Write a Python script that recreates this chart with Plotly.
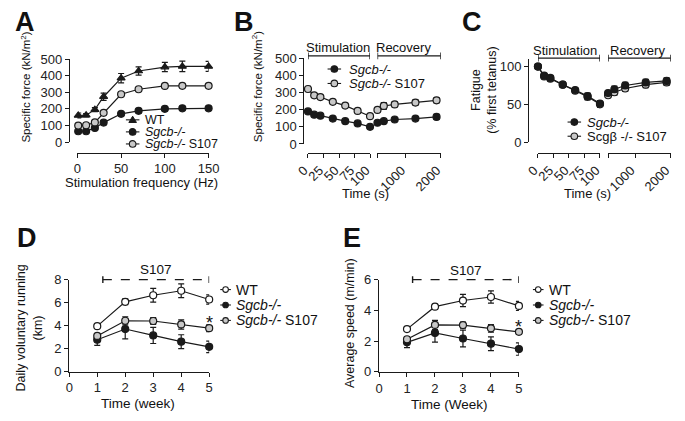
import plotly.graph_objects as go

W, H = 685, 421


def fx(p):
    return p / W


def fy(p):
    return 1 - p / H


# ---------------- data ----------------
# Panel A: force-frequency
freq_hz = [1, 10, 20, 30, 50, 70, 100, 120, 150]
a_wt = [160, 162, 195, 273, 385, 428, 452, 456, 456]
a_wt_err = [15, 10, 12, 22, 28, 25, 28, 32, 30]
a_ko = [65, 65, 85, 117, 170, 188, 200, 203, 203]
a_ko_err = [8, 8, 8, 12, 12, 12, 12, 12, 12]
a_s107 = [99, 101, 118, 176, 288, 318, 338, 339, 339]
a_s107_err = [8, 8, 8, 8, 8, 10, 10, 10, 10]

# Panels B, C: fatigue protocol
stim_time_s = [0, 10, 20, 40, 60, 80, 100]
rec_time_s = [200, 380, 690, 1280, 1880]
b_ko_stim = [190, 171, 165, 148, 133, 120, 100]
b_ko_stim_err = [8, 6, 6, 6, 6, 6, 6]
b_s107_stim = [321, 284, 274, 246, 224, 193, 162]
b_s107_stim_err = [15, 10, 10, 8, 8, 8, 8]
b_ko_rec = [124, 133, 143, 148, 158]
b_ko_rec_err = [8, 8, 8, 10, 15]
b_s107_rec = [199, 222, 231, 242, 255]
b_s107_rec_err = [12, 20, 15, 15, 15]

c_ko_stim = [100, 88, 85, 76, 69, 61, 51]
c_ko_stim_err = [2, 3, 3, 3, 3, 4, 4]
c_s107_stim = [100, 87, 84, 76, 68, 60, 50]
c_s107_stim_err = [2, 3, 3, 3, 3, 4, 4]
c_ko_rec = [65, 70, 75, 79, 81]
c_ko_rec_err = [3, 4, 4, 4, 4]
c_s107_rec = [62, 66, 71, 76, 79]
c_s107_rec_err = [3, 4, 4, 4, 4]

# Panels D, E: voluntary running
weeks = [1, 2, 3, 4, 5]
d_wt = [3.95, 6.07, 6.64, 7.03, 6.27]
d_wt_err = [0.1, 0.25, 0.6, 0.6, 0.4]
d_ko = [2.77, 3.7, 3.14, 2.6, 2.15]
d_ko_err = [0.5, 0.85, 0.7, 0.6, 0.5]
d_s107 = [3.1, 4.42, 4.4, 4.1, 3.77]
d_s107_err = [0.2, 0.35, 0.3, 0.4, 0.3]

e_wt = [2.78, 4.24, 4.64, 4.87, 4.29]
e_wt_err = [0.05, 0.15, 0.4, 0.4, 0.3]
e_ko = [1.92, 2.53, 2.17, 1.83, 1.48]
e_ko_err = [0.35, 0.6, 0.55, 0.45, 0.4]
e_s107 = [2.12, 3.05, 3.04, 2.83, 2.6]
e_s107_err = [0.15, 0.3, 0.2, 0.25, 0.15]

# ---------------- style ----------------
FONT = "Arial, 'Liberation Sans', sans-serif"
LINE = "#1a1a1a"
GREY = "#c8c8c8"

KO = "<i>Sgcb-/-</i>"
S107 = "<i>Sgcb-/-</i> S107"
S107_C = "Scgβ -/- S107"

fig = go.Figure()


def add(x, y, err, xa, ya, symbol, fill, name, size=7):
    fig.add_trace(go.Scatter(
        x=x, y=y, mode="lines+markers", name=name,
        xaxis=xa, yaxis=ya, showlegend=False,
        line=dict(color=LINE, width=1.2),
        marker=dict(symbol=symbol, size=size, color=fill,
                    line=dict(color=LINE, width=1.2)),
        error_y=dict(type="data", array=err, visible=True, color=LINE,
                     thickness=1.2, width=3),
        cliponaxis=False, hoverinfo="skip"))


# A
add(freq_hz, a_wt, a_wt_err, "x", "y", "triangle-up", LINE, "WT")
add(freq_hz, a_ko, a_ko_err, "x", "y", "circle", LINE, KO)
add(freq_hz, a_s107, a_s107_err, "x", "y", "circle", GREY, S107)
# B
add(stim_time_s, b_ko_stim, b_ko_stim_err, "x2", "y2", "circle", LINE, KO)
add(stim_time_s, b_s107_stim, b_s107_stim_err, "x2", "y2", "circle", GREY, S107)
add(rec_time_s, b_ko_rec, b_ko_rec_err, "x3", "y2", "circle", LINE, KO)
add(rec_time_s, b_s107_rec, b_s107_rec_err, "x3", "y2", "circle", GREY, S107)
# C
add(stim_time_s, c_s107_stim, c_s107_stim_err, "x4", "y3", "circle", GREY, S107_C)
add(stim_time_s, c_ko_stim, c_ko_stim_err, "x4", "y3", "circle", LINE, KO)
add(rec_time_s, c_s107_rec, c_s107_rec_err, "x5", "y3", "circle", GREY, S107_C)
add(rec_time_s, c_ko_rec, c_ko_rec_err, "x5", "y3", "circle", LINE, KO)
# D
add(weeks, d_ko, d_ko_err, "x6", "y4", "circle", LINE, KO)
add(weeks, d_s107, d_s107_err, "x6", "y4", "circle", GREY, S107)
add(weeks, d_wt, d_wt_err, "x6", "y4", "circle", "white", "WT")
# E
add(weeks, e_ko, e_ko_err, "x7", "y5", "circle", LINE, KO)
add(weeks, e_s107, e_s107_err, "x7", "y5", "circle", GREY, S107)
add(weeks, e_wt, e_wt_err, "x7", "y5", "circle", "white", "WT")


def axis(**kw):
    base = dict(showline=True, linecolor=LINE, linewidth=1.3, ticks="outside",
                ticklen=4, tickwidth=1.3, tickcolor=LINE, showgrid=False,
                zeroline=False, fixedrange=True,
                tickfont=dict(family=FONT, size=13, color="#222"))
    base.update(kw)
    return base


XPOS = fy(151)
layout_axes = dict(
    xaxis=axis(domain=[fx(66.7), fx(202.7)], range=[0, 150], tickvals=[0, 50, 100, 150],
               anchor="free", position=XPOS),
    yaxis=axis(domain=[fy(140), fy(54)], range=[0, 500], tickvals=[0, 100, 200, 300, 400, 500],
               anchor="free", position=fx(58)),
    xaxis2=axis(domain=[fx(305.7), fx(370)], range=[0, 100], tickvals=[0, 25, 50, 75, 100],
                tickangle=-45, anchor="free", position=XPOS, ticklabelshift=-4),
    xaxis3=axis(domain=[fx(377.7), fx(443.3)], range=[200, 2000], tickvals=[200, 1000, 2000],
                ticktext=["", "1000", "2000"], tickangle=-45, anchor="free", position=XPOS,
                ticklabelshift=-4),
    yaxis2=axis(domain=[fy(142), fy(53.3)], range=[0, 500], tickvals=[0, 100, 200, 300, 400, 500],
                anchor="free", position=fx(301)),
    xaxis4=axis(domain=[fx(544), fx(608.3)], range=[0, 100], tickvals=[0, 25, 50, 75, 100],
                tickangle=-45, anchor="free", position=XPOS, ticklabelshift=-4),
    xaxis5=axis(domain=[fx(616.7), fx(681.7)], range=[200, 2000], tickvals=[200, 1000, 2000],
                ticktext=["", "1000", "2000"], tickangle=-45, anchor="free", position=XPOS,
                ticklabelshift=-5),
    yaxis3=axis(domain=[fy(140), fy(54)], range=[0, 110], tickvals=[0, 50, 100],
                anchor="free", position=fx(534)),
    xaxis6=axis(domain=[fx(58.3), fx(203.3)], range=[0, 5], tickvals=[0, 1, 2, 3, 4, 5],
                anchor="y4"),
    yaxis4=axis(domain=[fy(378), fy(282.7)], range=[0, 8], tickvals=[0, 2, 4, 6, 8],
                anchor="x6"),
    xaxis7=axis(domain=[fx(379.3), fx(524.3)], range=[0, 5], tickvals=[0, 1, 2, 3, 4, 5],
                anchor="y5"),
    yaxis5=axis(domain=[fy(378.3), fy(282.7)], range=[0, 6], tickvals=[0, 2, 4, 6],
                anchor="x7"),
)

annotations = []
shapes = []


def text(x, y, s, size=13.5, xref="paper", yref="paper", angle=0, bold=False,
         xanchor="center", **kw):
    annotations.append(dict(x=x, y=y, xref=xref, yref=yref, text=s, showarrow=False,
                            textangle=angle, xanchor=xanchor, yanchor="middle",
                            font=dict(family=FONT, size=size, color="#111",
                                      weight="bold" if bold else "normal"), **kw))


# ---------- legends (symbol + short line + label) ----------
def legend_entry(tx, cy, label, symbol, fill, size=13, r=3.3, gap=11, half=7):
    y = fy(cy)
    mx = tx - gap
    shapes.append(dict(type="line", xref="paper", yref="paper",
                       x0=fx(mx - half), x1=fx(mx + half), y0=y, y1=y,
                       line=dict(color=LINE, width=1.1)))
    if symbol == "circle":
        shapes.append(dict(type="circle", xref="paper", yref="paper",
                           xsizemode="pixel", ysizemode="pixel",
                           xanchor=fx(mx), yanchor=y, x0=-r, x1=r, y0=-r, y1=r,
                           fillcolor=fill, line=dict(color=LINE, width=1.1)))
    else:
        shapes.append(dict(type="path", xref="paper", yref="paper",
                           xsizemode="pixel", ysizemode="pixel",
                           xanchor=fx(mx), yanchor=y,
                           path=f"M{-r - 0.5},{-r * 0.8} L{r + 0.5},{-r * 0.8} L0,{r * 1.1} Z",
                           fillcolor=fill, line=dict(color=LINE, width=1.0)))
    text(fx(tx), y, label, size=size, xanchor="left")


legend_entry(135, 117, "WT", "triangle", LINE, size=12.5)
legend_entry(135, 129.5, KO, "circle", LINE, size=12.5)
legend_entry(135, 142, S107, "circle", GREY, size=12.5)

legend_entry(346, 64.3, KO, "circle", LINE, gap=13)
legend_entry(346, 79.3, S107, "circle", GREY, gap=13)

legend_entry(592.7, 119.3, KO, "circle", LINE)
legend_entry(592.7, 134, S107_C, "circle", GREY)

for tx in (229.3, 553.3):
    legend_entry(tx, 293, "WT", "circle", "white", size=14, r=2.8, gap=9, half=5.5)
    legend_entry(tx, 309, KO, "circle", LINE, size=14, r=2.8, gap=9, half=5.5)
    legend_entry(tx, 325, S107, "circle", GREY, size=14, r=2.8, gap=9, half=5.5)

# panel letters
for letter, px, py in [("A", 12, 16), ("B", 239, 16), ("C", 476, 16), ("D", 14, 240), ("E", 351, 240)]:
    text(fx(px), fy(py), letter, size=27, bold=True)

# axis titles
text(fx(13), fy(83), "Specific force (kN/m<sup>2</sup>)", size=11.5, angle=-90)
text(fx(133), fy(182), "Stimulation frequency (Hz)", size=13)
text(fx(253), fy(83), "Specific force (kN/m<sup>2</sup>)", size=11.5, angle=-90)
text(fx(365), fy(193), "Time (s)", size=13)
text(fx(488), fy(86), "Fatigue<br>(% first tetanus)", size=12.5, angle=-90)
text(fx(595), fy(193), "Time (s)", size=13)
text(fx(17), fy(333), "Daily voluntary running<br>(km)", size=12.5, angle=-90)
text(fx(130), fy(411), "Time (week)", size=13.5)
text(fx(350), fy(328), "Average speed (m/min)", size=12.5, angle=-90)
text(fx(452), fy(412), "Time (Week)", size=13.5)

# brackets Stimulation / Recovery
CAP = 3.5 / H


def bracket(xref, x0, x1, ypx, dash="solid"):
    yy = fy(ypx)
    shapes.append(dict(type="line", xref=xref, yref="paper", x0=x0, x1=x1, y0=yy, y1=yy,
                       line=dict(color=LINE, width=1.4, dash=dash)))
    for xv in (x0, x1):
        shapes.append(dict(type="line", xref=xref, yref="paper", x0=xv, x1=xv,
                           y0=yy - CAP, y1=yy + CAP, line=dict(color=LINE, width=1.4)))


bracket("x2", 0, 100, 50.7)
bracket("x3", 200, 2000, 50.7)
text(fx(337), fy(41.7), "Stimulation", size=13)
text(fx(405), fy(41.7), "Recovery", size=13)
bracket("x4", 0, 100, 53)
bracket("x5", 200, 2000, 53)
text(fx(572), fy(45), "Stimulation", size=13)
text(fx(647), fy(45), "Recovery", size=13)

# S107 dashed treatment brackets
bracket("x6", 1.2, 5, 282.7, dash="dash")
text(3.1, fy(271.7), "S107", xref="x6")
bracket("x7", 1.2, 5, 282.7, dash="dash")
text(3.1, fy(273), "S107", xref="x7")

# significance stars
text(5, 4.45, "*", size=18, xref="x6", yref="y4", yshift=-3)
text(5, 3.14, "*", size=18, xref="x7", yref="y5", yshift=-3)

fig.update_layout(
    width=W, height=H, margin=dict(l=0, r=0, t=0, b=0),
    paper_bgcolor="white", plot_bgcolor="rgba(0,0,0,0)",
    font=dict(family=FONT, size=13, color="#111"),
    showlegend=False,
    annotations=annotations, shapes=shapes,
    **layout_axes,
)

fig.write_html("out.html", config={"displayModeBar": False},
               post_script="document.body.style.margin='0px';")
